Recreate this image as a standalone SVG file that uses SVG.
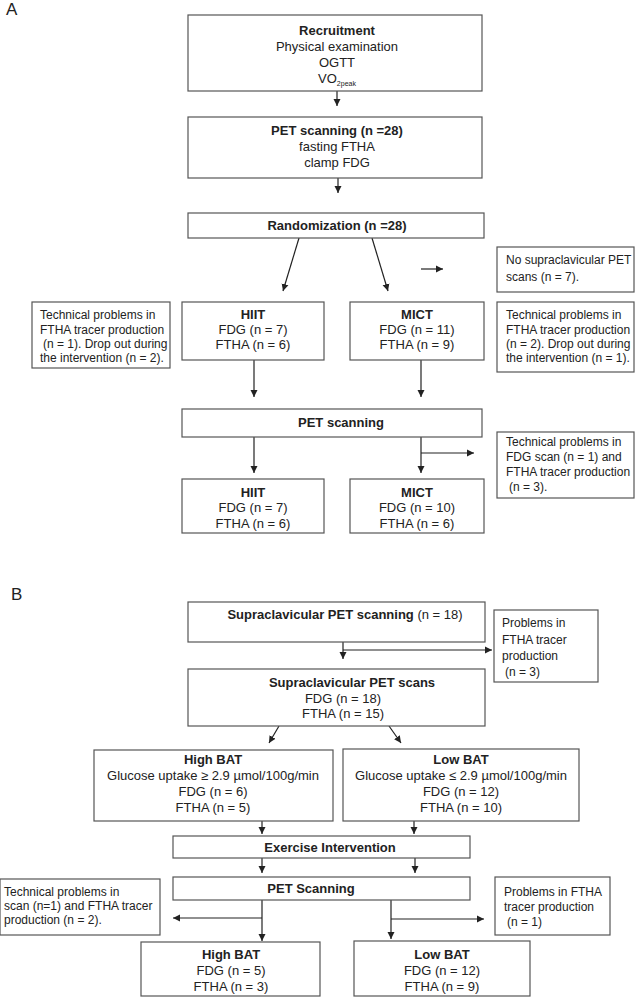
<svg xmlns="http://www.w3.org/2000/svg" width="635" height="998" viewBox="0 0 635 998">
<style>
.box{fill:#fff;stroke:#555;stroke-width:1.2}
text{font-family:"Liberation Sans",Arial,sans-serif;fill:#222}
.t{font-size:13px;text-anchor:middle}
.b{font-weight:bold}
.n{font-size:12px;text-anchor:start}
.lbl{font-size:17px}
.c{stroke:#222;stroke-width:1.2;fill:none}
.a{marker-end:url(#ah)}
</style>
<defs>
<marker id="ah" markerUnits="userSpaceOnUse" markerWidth="8" markerHeight="8" refX="7" refY="4" orient="auto">
<path d="M0,0.5 L7,4 L0,7.5 z" fill="#222"/>
</marker>
</defs>
<rect width="635" height="998" fill="#fff"/>
<text class="lbl" x="6" y="15">A</text>
<text class="lbl" x="11" y="600">B</text>

<g id="connectors">
<line class="c a" x1="337" y1="91" x2="337" y2="106"/>
<line class="c a" x1="338" y1="178" x2="338" y2="193"/>
<line class="c a" x1="299" y1="238" x2="283" y2="291"/>
<line class="c a" x1="372" y1="238" x2="388" y2="291"/>
<line class="c a" x1="421" y1="269" x2="443" y2="269"/>
<line class="c a" x1="254" y1="360" x2="254" y2="397"/>
<line class="c a" x1="421" y1="360" x2="421" y2="397"/>
<line class="c a" x1="254" y1="437" x2="254" y2="473"/>
<line class="c a" x1="421" y1="437" x2="421" y2="473"/>
<line class="c a" x1="421" y1="453" x2="474" y2="453"/>
<line class="c a" x1="343" y1="642" x2="343" y2="659"/>
<line class="c a" x1="343" y1="650" x2="492" y2="650"/>
<line class="c a" x1="279" y1="726" x2="269" y2="743"/>
<line class="c a" x1="389" y1="726" x2="401" y2="743"/>
<line class="c a" x1="262" y1="821" x2="262" y2="834"/>
<line class="c a" x1="414" y1="815" x2="414" y2="834"/>
<line class="c a" x1="262" y1="858" x2="262" y2="873"/>
<line class="c a" x1="415" y1="858" x2="415" y2="873"/>
<line class="c a" x1="262" y1="900" x2="262" y2="941"/>
<line class="c a" x1="262" y1="918" x2="173" y2="918"/>
<line class="c a" x1="391" y1="900" x2="391" y2="939"/>
<line class="c a" x1="391" y1="919" x2="484" y2="919"/>
</g>

<g id="recruitment">
<rect class="box" x="188" y="15" width="294" height="76"/>
<text class="t b" x="337" y="35">Recruitment</text>
<text class="t" x="337" y="51">Physical examination</text>
<text class="t" x="337" y="67">OGTT</text>
<text class="t" x="337" y="83">VO<tspan font-size="7" dy="3">2peak</tspan></text>
</g>
<g id="pet1">
<rect class="box" x="188" y="117" width="294" height="61"/>
<text class="t b" x="337" y="135">PET scanning (n =28)</text>
<text class="t" x="337" y="151">fasting FTHA</text>
<text class="t" x="337" y="167">clamp FDG</text>
</g>
<g id="randomization">
<rect class="box" x="188" y="213" width="296" height="25"/>
<text class="t b" x="337" y="230">Randomization (n =28)</text>
</g>
<g id="nosupra">
<rect class="box" x="497" y="247" width="137" height="45"/>
<text class="n" x="506" y="264">No supraclavicular PET</text>
<text class="n" x="506" y="281">scans (n = 7).</text>
</g>
<g id="techA1">
<rect class="box" x="32" y="302" width="138" height="66"/>
<text class="n" x="40" y="319">Technical problems in</text>
<text class="n" x="40" y="334">FTHA tracer production</text>
<text class="n" x="43" y="348">(n = 1). Drop out during</text>
<text class="n" x="40" y="362">the intervention (n = 2).</text>
</g>
<g id="hiit1">
<rect class="box" x="182" y="302" width="142" height="58"/>
<text class="t b" x="253" y="319">HIIT</text>
<text class="t" x="253" y="334">FDG (n = 7)</text>
<text class="t" x="253" y="349">FTHA (n = 6)</text>
</g>
<g id="mict1">
<rect class="box" x="350" y="302" width="134" height="58"/>
<text class="t b" x="417" y="319">MICT</text>
<text class="t" x="417" y="334">FDG (n = 11)</text>
<text class="t" x="417" y="349">FTHA (n = 9)</text>
</g>
<g id="techA2">
<rect class="box" x="497" y="302" width="137" height="70"/>
<text class="n" x="506" y="319">Technical problems in</text>
<text class="n" x="506" y="334">FTHA tracer production</text>
<text class="n" x="506" y="348">(n = 2). Drop out during</text>
<text class="n" x="506" y="362">the intervention (n = 1).</text>
</g>
<g id="pet2">
<rect class="box" x="182" y="409" width="300" height="28"/>
<text class="t b" x="341" y="427">PET scanning</text>
</g>
<g id="techA3">
<rect class="box" x="497" y="432" width="137" height="66"/>
<text class="n" x="506" y="446">Technical problems in</text>
<text class="n" x="506" y="461">FDG scan (n = 1) and</text>
<text class="n" x="506" y="476">FTHA tracer production</text>
<text class="n" x="509" y="491">(n = 3).</text>
</g>
<g id="hiit2">
<rect class="box" x="182" y="479" width="142" height="54"/>
<text class="t b" x="253" y="497">HIIT</text>
<text class="t" x="253" y="512">FDG (n = 7)</text>
<text class="t" x="253" y="528">FTHA (n = 6)</text>
</g>
<g id="mict2">
<rect class="box" x="350" y="479" width="134" height="54"/>
<text class="t b" x="417" y="497">MICT</text>
<text class="t" x="417" y="512">FDG (n = 10)</text>
<text class="t" x="417" y="528">FTHA (n = 6)</text>
</g>

<g id="supra1">
<rect class="box" x="188" y="602" width="297" height="40"/>
<text class="t" x="345" y="619"><tspan class="b">Supraclavicular PET scanning</tspan> (n = 18)</text>
</g>
<g id="problemsB1">
<rect class="box" x="494" y="610" width="104" height="72"/>
<text class="n" x="502" y="627">Problems in</text>
<text class="n" x="502" y="644">FTHA tracer</text>
<text class="n" x="502" y="660">production</text>
<text class="n" x="505" y="676">(n = 3)</text>
</g>
<g id="supra2">
<rect class="box" x="188" y="669" width="297" height="57"/>
<text class="t b" x="352" y="687">Supraclavicular PET scans</text>
<text class="t" x="343" y="703">FDG (n = 18)</text>
<text class="t" x="343" y="718">FTHA (n = 15)</text>
</g>
<g id="highbat1">
<rect class="box" x="94" y="750" width="239" height="71"/>
<text class="t b" x="213" y="764">High BAT</text>
<text class="t" x="213" y="780">Glucose uptake ≥ 2.9 µmol/100g/min</text>
<text class="t" x="213" y="796">FDG (n = 6)</text>
<text class="t" x="213" y="812">FTHA (n = 5)</text>
</g>
<g id="lowbat1">
<rect class="box" x="343" y="749" width="236" height="72"/>
<text class="t b" x="461" y="764">Low BAT</text>
<text class="t" x="461" y="780">Glucose uptake ≤ 2.9 µmol/100g/min</text>
<text class="t" x="461" y="796">FDG (n = 12)</text>
<text class="t" x="461" y="812">FTHA (n = 10)</text>
</g>
<g id="exercise">
<rect class="box" x="173" y="836" width="297" height="22"/>
<text class="t b" x="330" y="852">Exercise Intervention</text>
</g>
<g id="petB">
<rect class="box" x="173" y="877" width="297" height="23"/>
<text class="t b" x="311" y="893">PET Scanning</text>
</g>
<g id="techB">
<rect class="box" x="0" y="879" width="160" height="56"/>
<text class="n" x="4" y="896">Technical problems in</text>
<text class="n" x="4" y="910">scan (n=1) and FTHA tracer</text>
<text class="n" x="4" y="924">production (n = 2).</text>
</g>
<g id="problemsB2">
<rect class="box" x="495" y="877" width="115" height="58"/>
<text class="n" x="504" y="896">Problems in FTHA</text>
<text class="n" x="504" y="911">tracer production</text>
<text class="n" x="507" y="926">(n = 1)</text>
</g>
<g id="highbat2">
<rect class="box" x="141" y="942" width="179" height="54"/>
<text class="t b" x="231" y="959">High BAT</text>
<text class="t" x="231" y="975">FDG (n = 5)</text>
<text class="t" x="231" y="991">FTHA (n = 3)</text>
</g>
<g id="lowbat2">
<rect class="box" x="354" y="941" width="176" height="55"/>
<text class="t b" x="442" y="959">Low BAT</text>
<text class="t" x="442" y="975">FDG (n = 12)</text>
<text class="t" x="442" y="991">FTHA (n = 9)</text>
</g>
</svg>
